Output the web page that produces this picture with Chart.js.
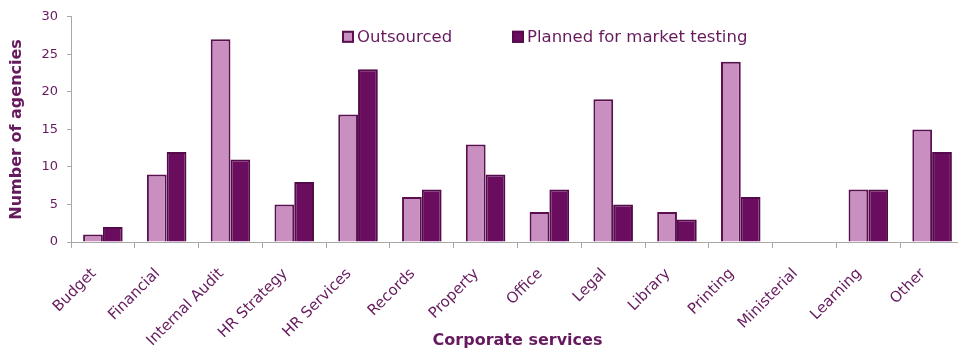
<!DOCTYPE html>
<html>
<head>
<meta charset="utf-8">
<script src="https://cdn.jsdelivr.net/npm/chart.js@4/dist/chart.umd.min.js"></script>
<style>
  html, body { margin: 0; padding: 0; background: #fff; overflow: hidden; }
</style>
</head>
<body>
<canvas id="servicesChart" width="966" height="354"></canvas>
<script>
const services = ['Budget', 'Financial', 'Internal Audit', 'HR Strategy', 'HR Services', 'Records',
  'Property', 'Office', 'Legal', 'Library', 'Printing', 'Ministerial', 'Learning', 'Other'];
const outsourced = [1, 9, 27, 5, 17, 6, 13, 4, 19, 4, 24, 0, 7, 15];
const plannedTesting = [2, 12, 11, 8, 23, 7, 9, 7, 5, 3, 6, 0, 7, 12];
const yTicks = [0, 5, 10, 15, 20, 25, 30];

const textColor = '#661a5e';
const axisColor = '#a8a8a8';
const fontFamily = "'DejaVu Sans', Verdana, sans-serif";

// legend sits inside the plot, above the shorter bars
const insideLegend = {
  id: 'insideLegend',
  afterDraw(chart) {
    const ctx = chart.ctx;
    const area = chart.chartArea;
    const starts = [area.left + 271, area.left + 441];
    ctx.save();
    ctx.font = '16.5px ' + fontFamily;
    ctx.textBaseline = 'middle';
    ctx.fillStyle = textColor;
    chart.data.datasets.forEach((ds, i) => {
      const x = starts[i];
      const y = area.top + 14;
      ctx.fillStyle = ds.backgroundColor;
      ctx.fillRect(x, y, 12, 12);
      ctx.strokeStyle = ds.borderColor;
      ctx.lineWidth = 2;
      ctx.strokeRect(x + 1, y + 1, 10, 10);
      ctx.fillStyle = textColor;
      ctx.fillText(ds.label, x + 15, y + 6.5);
    });
    ctx.restore();
  }
};

Chart.defaults.font.family = fontFamily;
Chart.defaults.color = textColor;

new Chart(document.getElementById('servicesChart'), {
  type: 'bar',
  data: {
    labels: services,
    datasets: [{
      label: 'Outsourced',
      data: outsourced,
      backgroundColor: '#c98fc0',
      borderColor: '#5a0f4f',
      borderWidth: 2,
      categoryPercentage: 0.62,
      barPercentage: 1.0
    }, {
      label: 'Planned for market testing',
      data: plannedTesting,
      backgroundColor: '#6a0d5f',
      borderColor: '#550a4b',
      borderWidth: 2,
      categoryPercentage: 0.62,
      barPercentage: 1.0
    }]
  },
  options: {
    responsive: false,
    animation: false,
    layout: { padding: { left: 0, right: 2, top: 15, bottom: 0 } },
    plugins: {
      legend: { display: false },
      tooltip: { enabled: false }
    },
    scales: {
      x: {
        afterFit: scale => { scale.height = 112; },
        grid: { display: true, drawOnChartArea: false, offset: true, tickLength: 6, color: axisColor },
        border: { color: axisColor },
        ticks: { autoSkip: false, maxRotation: 45, minRotation: 45, padding: 17, labelOffset: -9, font: { size: 15 }, color: textColor },
        title: { display: true, text: 'Corporate services', font: { size: 16, weight: 'bold' }, color: textColor, padding: { top: 0, bottom: 4 } }
      },
      y: {
        min: 0,
        max: 30,
        afterFit: scale => { scale.width = 71; },
        afterBuildTicks: axis => { axis.ticks = yTicks.map(v => ({ value: v })); },
        grid: { display: true, drawOnChartArea: false, tickLength: 4, color: axisColor },
        border: { color: axisColor },
        ticks: { autoSkip: false, padding: 9, font: { size: 13 }, color: textColor },
        title: { display: true, text: 'Number of agencies', font: { size: 16, weight: 'bold' }, color: textColor, padding: { top: 7, bottom: 0 } }
      }
    }
  },
  plugins: [insideLegend]
});
</script>
</body>
</html>
